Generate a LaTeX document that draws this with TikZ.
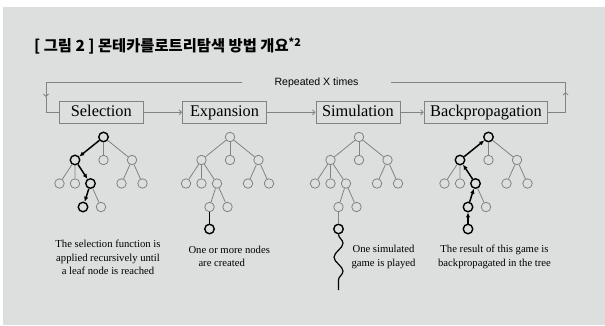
\documentclass[tikz,border=0pt]{standalone}
\usepackage{fontspec}
\setmainfont{Liberation Serif}
\setsansfont{Liberation Sans}
\newfontfamily\krfont{Noto Sans CJK KR}
\usetikzlibrary{arrows.meta,decorations.pathmorphing}
\definecolor{panel}{RGB}{221,223,222}
\definecolor{ink}{RGB}{130,130,130}

\begin{document}
\begin{tikzpicture}[x=1bp,y=-1bp,
  gnode/.style={circle,draw=ink,line width=.8bp,minimum size=9.5bp,inner sep=0pt},
  bnode/.style={circle,draw=black,line width=1.4bp,minimum size=9.5bp,inner sep=0pt},
  gedge/.style={draw=ink,line width=.8bp},
  bedge/.style={draw=black,line width=1.5bp},
  tip/.style={-{Latex[length=5bp,width=4.5bp]}},
  stage/.style={draw=ink,line width=.8bp,minimum width=84bp,minimum height=20bp,inner xsep=6bp,text height=11.5bp,text depth=3.6bp,font=\fontsize{16.4}{18}\selectfont},
  flow/.style={draw=ink,line width=.8bp},
  barb/.style={-{Straight Barb[length=2.5bp,width=5bp]}},
  caption/.style={inner sep=0pt,font=\fontsize{10.7}{13.3}\selectfont}]
  \fill[white] (0,0) rectangle (605,325);
  \fill[panel] (3,7) rectangle (605,325);
  \useasboundingbox (0,0) rectangle (605,325);
  \node[anchor=west,inner sep=0pt,font=\krfont\bfseries\fontsize{15.4}{18}\selectfont] (title) at (34,46) {[ 그림 2 ] 몬테카를로트리탐색 방법 개요\textsuperscript{*2}};
  \node[stage] (sel) at (101.3,112.3) {Selection};
  \node[stage] (exp) at (224.5,112.3) {Expansion};
  \node[stage] (sim) at (357.9,112.3) {Simulation};
  \node[stage] (bp) at (485.9,112.3) {Backpropagation};
  \node[inner xsep=32bp,font=\sffamily\fontsize{10.6}{12}\selectfont] (rep) at (316.5,82.7) {Repeated X times};
  \coordinate (ltop) at (46,82.7);
  \coordinate (lmid) at (46,97);
  \coordinate (rtop) at (565.7,82.7);
  \coordinate (rmid) at (565.7,92);
  \draw[flow] (rep.west) -- (ltop);
  \draw[flow,barb] (ltop) -- (lmid);
  \draw[flow] (lmid) |- (sel.west);
  \draw[flow,barb] (sel) -- (exp);
  \draw[flow,barb] (exp) -- (sim);
  \draw[flow,barb] (sim) -- (bp);
  \draw[flow,barb] (bp.east) -| (rmid);
  \draw[flow] (rmid) -- (rtop) -- (rep.east);
  \node[bnode] (s0) at (103.5,137) {};
  \node[bnode] (s1) at (75,160) {};
  \node[gnode] (s2) at (103.5,160) {};
  \node[gnode] (s3) at (132,160) {};
  \node[gnode] (s4) at (59.5,183.5) {};
  \node[gnode] (s5) at (75,183.5) {};
  \node[bnode] (s6) at (90.5,183.5) {};
  \node[gnode] (s7) at (121.5,183.5) {};
  \node[gnode] (s8) at (142.5,183.5) {};
  \node[bnode] (s9) at (83,207) {};
  \node[gnode] (s10) at (101,207) {};
  \draw[gedge] (s2) -- (s0) -- (s3);
  \draw[gedge] (s4) -- (s1) -- (s5);
  \draw[gedge] (s7) -- (s3) -- (s8);
  \draw[gedge] (s6) -- (s10);
  \draw[bedge,tip] (s0) -- (s1);
  \draw[bedge,tip] (s1) -- (s6);
  \draw[bedge,tip] (s6) -- (s9);
  \node[gnode] (e0) at (230,137) {};
  \node[gnode] (e1) at (201.5,160) {};
  \node[gnode] (e2) at (230,160) {};
  \node[gnode] (e3) at (258.5,160) {};
  \node[gnode] (e4) at (186,183.5) {};
  \node[gnode] (e5) at (201.5,183.5) {};
  \node[gnode] (e6) at (217,183.5) {};
  \node[gnode] (e7) at (248,183.5) {};
  \node[gnode] (e8) at (269,183.5) {};
  \node[gnode] (e9) at (209.5,207) {};
  \node[gnode] (e10) at (227.5,207) {};
  \node[bnode] (e11) at (209.5,229) {};
  \draw[gedge] (e1) -- (e0) -- (e3);
  \draw[gedge] (e0) -- (e2);
  \draw[gedge] (e4) -- (e1) -- (e6);
  \draw[gedge] (e1) -- (e5);
  \draw[gedge] (e7) -- (e3) -- (e8);
  \draw[gedge] (e9) -- (e6) -- (e10);
  \draw[bedge] (e9) -- (e11);
  \node[gnode] (m0) at (359,137) {};
  \node[gnode] (m1) at (330.5,160) {};
  \node[gnode] (m2) at (359,160) {};
  \node[gnode] (m3) at (387.5,160) {};
  \node[gnode] (m4) at (315,183.5) {};
  \node[gnode] (m5) at (330.5,183.5) {};
  \node[gnode] (m6) at (346,183.5) {};
  \node[gnode] (m7) at (377,183.5) {};
  \node[gnode] (m8) at (398,183.5) {};
  \node[gnode] (m9) at (338.5,207) {};
  \node[gnode] (m10) at (356.5,207) {};
  \node[bnode] (m11) at (338.5,229) {};
  \coordinate (wend) at (338.5,290);
  \draw[gedge] (m1) -- (m0) -- (m3);
  \draw[gedge] (m0) -- (m2);
  \draw[gedge] (m4) -- (m1) -- (m6);
  \draw[gedge] (m1) -- (m5);
  \draw[gedge] (m7) -- (m3) -- (m8);
  \draw[gedge] (m9) -- (m6) -- (m10);
  \draw[gedge] (m9) -- (m11);
  \draw[line width=1.2bp,decorate,decoration={snake,segment length=28bp,amplitude=4.5bp}] (m11) -- (wend);
  \node[bnode] (b0) at (488.5,137) {};
  \node[bnode] (b1) at (460,160) {};
  \node[gnode] (b2) at (488.5,160) {};
  \node[gnode] (b3) at (517,160) {};
  \node[gnode] (b4) at (444.5,183.5) {};
  \node[gnode] (b5) at (460,183.5) {};
  \node[bnode] (b6) at (475.5,183.5) {};
  \node[gnode] (b7) at (506.5,183.5) {};
  \node[gnode] (b8) at (527.5,183.5) {};
  \node[bnode] (b9) at (468,207) {};
  \node[gnode] (b10) at (486,207) {};
  \node[bnode] (b11) at (468,229) {};
  \draw[gedge] (b2) -- (b0) -- (b3);
  \draw[gedge] (b4) -- (b1) -- (b5);
  \draw[gedge] (b7) -- (b3) -- (b8);
  \draw[gedge] (b6) -- (b10);
  \draw[bedge,tip] (b11) -- (b9);
  \draw[bedge,tip] (b9) -- (b6);
  \draw[bedge,tip] (b6) -- (b1);
  \draw[bedge,tip] (b1) -- (b0);
  \node[caption,align=center] (scap) at (108,257.5) {The selection function is\\applied recursively until\\a leaf node is reached};
  \node[caption,align=left,anchor=west] (ecap) at (188.3,256.7) {One or more nodes\\\hspace*{10bp}are created};
  \node[caption,align=center] (mcap) at (383.5,257) {One simulated\\game is played};
  \node[caption,align=center] (bcap) at (494.5,257) {The result of this game is\\backpropagated in the tree};
\end{tikzpicture}
\end{document}
